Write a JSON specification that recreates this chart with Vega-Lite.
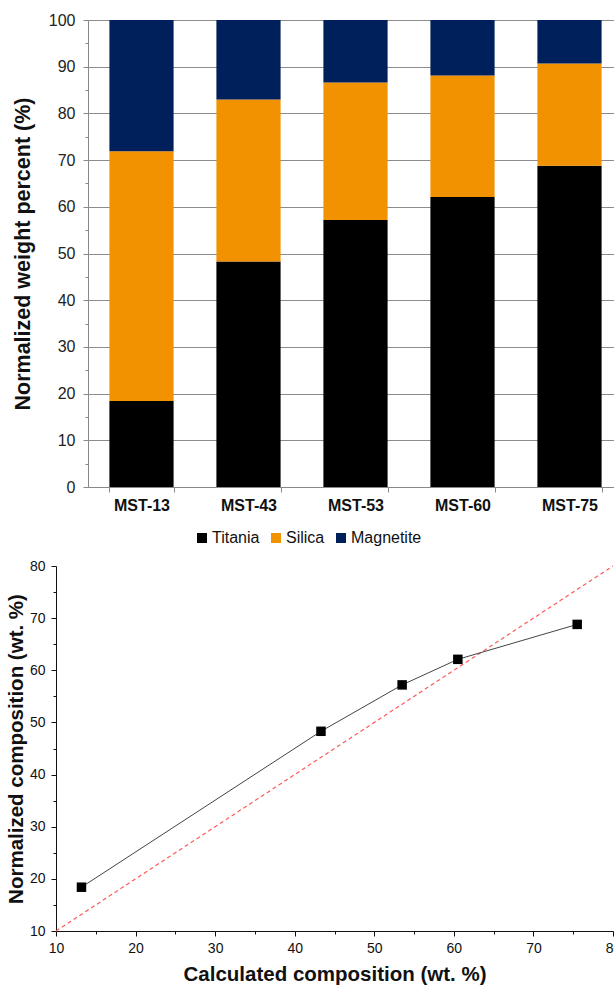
{
  "$schema": "https://vega.github.io/schema/vega-lite/v6.json",
  "padding": {"left": 6, "top": 12, "right": 0, "bottom": 0},
  "background": "white",
  "config": {
    "font": "Liberation Sans",
    "view": {"stroke": null}
  },
  "spacing": 46,
  "datasets": {
    "bars": [
      {"sample": "MST-13", "component": "Titania", "value": 18.4},
      {"sample": "MST-13", "component": "Silica", "value": 53.5},
      {"sample": "MST-13", "component": "Magnetite", "value": 28.1},
      {"sample": "MST-43", "component": "Titania", "value": 48.3},
      {"sample": "MST-43", "component": "Silica", "value": 34.7},
      {"sample": "MST-43", "component": "Magnetite", "value": 17.0},
      {"sample": "MST-53", "component": "Titania", "value": 57.2},
      {"sample": "MST-53", "component": "Silica", "value": 29.4},
      {"sample": "MST-53", "component": "Magnetite", "value": 13.4},
      {"sample": "MST-60", "component": "Titania", "value": 62.1},
      {"sample": "MST-60", "component": "Silica", "value": 26.0},
      {"sample": "MST-60", "component": "Magnetite", "value": 11.9},
      {"sample": "MST-75", "component": "Titania", "value": 68.8},
      {"sample": "MST-75", "component": "Silica", "value": 21.9},
      {"sample": "MST-75", "component": "Magnetite", "value": 9.3}
    ],
    "comp": [
      {"calculated": 13.2, "normalized": 18.4},
      {"calculated": 43.3, "normalized": 48.3},
      {"calculated": 53.5, "normalized": 57.2},
      {"calculated": 60.5, "normalized": 62.1},
      {"calculated": 75.5, "normalized": 68.8}
    ],
    "ref": [
      {"calculated": 10, "normalized": 10},
      {"calculated": 80, "normalized": 80}
    ]
  },
  "vconcat": [
    {
      "width": 567,
      "height": 467,
      "data": {"name": "bars"},
      "resolve": {"axis": {"y": "independent"}},
      "layer": [
        {
          "mark": {"type": "bar"},
          "encoding": {
            "x": {
              "field": "sample", "type": "nominal", "sort": null,
              "scale": {"range": [32, 567], "paddingInner": 0.4, "paddingOuter": 0.2},
              "axis": {
                "title": null, "labelAngle": 0, "labelFontWeight": "bold",
                "labelFontSize": 16, "labelColor": "#111", "labelPadding": 5,
                "tickBand": "extent", "tickSize": 5, "tickColor": "#888",
                "domainColor": "#888", "grid": false
              }
            },
            "y": {
              "field": "value", "type": "quantitative", "stack": "zero",
              "scale": {"domain": [0, 100], "nice": false},
              "axis": {
                "offset": -32,
                "title": "Normalized weight percent (%)",
                "titleFontSize": 21.5, "titleFontWeight": "bold", "titleColor": "#111",
                "titlePadding": 14,
                "values": [0, 10, 20, 30, 40, 50, 60, 70, 80, 90, 100],
                "labelFontSize": 16, "labelColor": "#222", "labelPadding": 8,
                "tickSize": 5, "tickColor": "#888", "domainColor": "#888",
                "grid": true, "gridColor": "#8c8c8c", "gridWidth": 1
              }
            },
            "color": {
              "field": "component", "type": "nominal",
              "scale": {"domain": ["Titania", "Silica", "Magnetite"], "range": ["#000000", "#F39200", "#00205B"]},
              "legend": {
                "title": null, "orient": "none", "direction": "horizontal",
                "legendX": 138, "legendY": 510,
                "symbolType": "square", "symbolSize": 100, "symbolStrokeWidth": 0,
                "labelFontSize": 16, "labelColor": "#111", "labelOffset": 2,
                "columnPadding": 8
              }
            },
            "order": {"field": "component", "sort": "descending"}
          }
        },
        {
          "mark": {"type": "tick", "opacity": 0},
          "encoding": {
            "y": {
              "field": "value", "type": "quantitative",
              "scale": {"domain": [0, 100], "nice": false},
              "axis": {
                "orient": "left", "offset": -32, "title": null,
                "values": [5, 15, 25, 35, 45, 55, 65, 75, 85, 95],
                "labels": false, "domain": false, "grid": false,
                "tickSize": 3, "tickColor": "#888"
              }
            }
          }
        }
      ]
    },
    {
      "width": 557,
      "height": 365,
      "resolve": {"axis": {"x": "independent", "y": "independent"}},
      "layer": [
        {
          "data": {"name": "ref"},
          "mark": {"type": "line", "color": "#ff5a5a", "strokeWidth": 1.2, "strokeDash": [4, 3]},
          "encoding": {
            "x": {"field": "calculated", "type": "quantitative", "scale": {"domain": [10, 80], "nice": false}, "axis": null},
            "y": {"field": "normalized", "type": "quantitative", "scale": {"domain": [10, 80], "nice": false}, "axis": null}
          }
        },
        {
          "data": {"name": "comp"},
          "mark": {"type": "line", "color": "#444", "strokeWidth": 1, "interpolate": "linear"},
          "encoding": {
            "x": {"field": "calculated", "type": "quantitative", "axis": null},
            "y": {"field": "normalized", "type": "quantitative", "axis": null}
          }
        },
        {
          "data": {"name": "comp"},
          "mark": {"type": "square", "color": "#000", "opacity": 1, "size": 90},
          "encoding": {
            "x": {
              "field": "calculated", "type": "quantitative",
              "axis": {
                "title": "Calculated composition (wt. %)",
                "titleFontSize": 20.5, "titleFontWeight": "bold", "titleColor": "#111", "titlePadding": 9,
                "values": [10, 20, 30, 40, 50, 60, 70, 80],
                "labelFontSize": 14, "labelColor": "#111", "labelPadding": 5,
                "tickSize": 5, "tickColor": "#111", "domainColor": "#111", "grid": false,
                "labelFlush": false
              }
            },
            "y": {
              "field": "normalized", "type": "quantitative",
              "axis": {
                "title": "Normalized composition (wt. %)",
                "titleFontSize": 20.5, "titleFontWeight": "bold", "titleColor": "#111", "titlePadding": 3,
                "values": [10, 20, 30, 40, 50, 60, 70, 80],
                "labelFontSize": 14, "labelColor": "#111", "labelPadding": 6,
                "tickSize": 5, "tickColor": "#111", "domainColor": "#111", "grid": false
              }
            }
          }
        },
        {
          "data": {"name": "ref"},
          "mark": {"type": "point", "opacity": 0},
          "encoding": {
            "x": {
              "field": "calculated", "type": "quantitative",
              "axis": {"orient": "bottom", "title": null, "values": [15, 25, 35, 45, 55, 65, 75], "labels": false, "domain": false, "grid": false, "tickSize": 3, "tickColor": "#111"}
            },
            "y": {
              "field": "normalized", "type": "quantitative",
              "axis": {"orient": "left", "title": null, "values": [15, 25, 35, 45, 55, 65, 75], "labels": false, "domain": false, "grid": false, "tickSize": 3, "tickColor": "#111"}
            }
          }
        }
      ]
    }
  ]
}
